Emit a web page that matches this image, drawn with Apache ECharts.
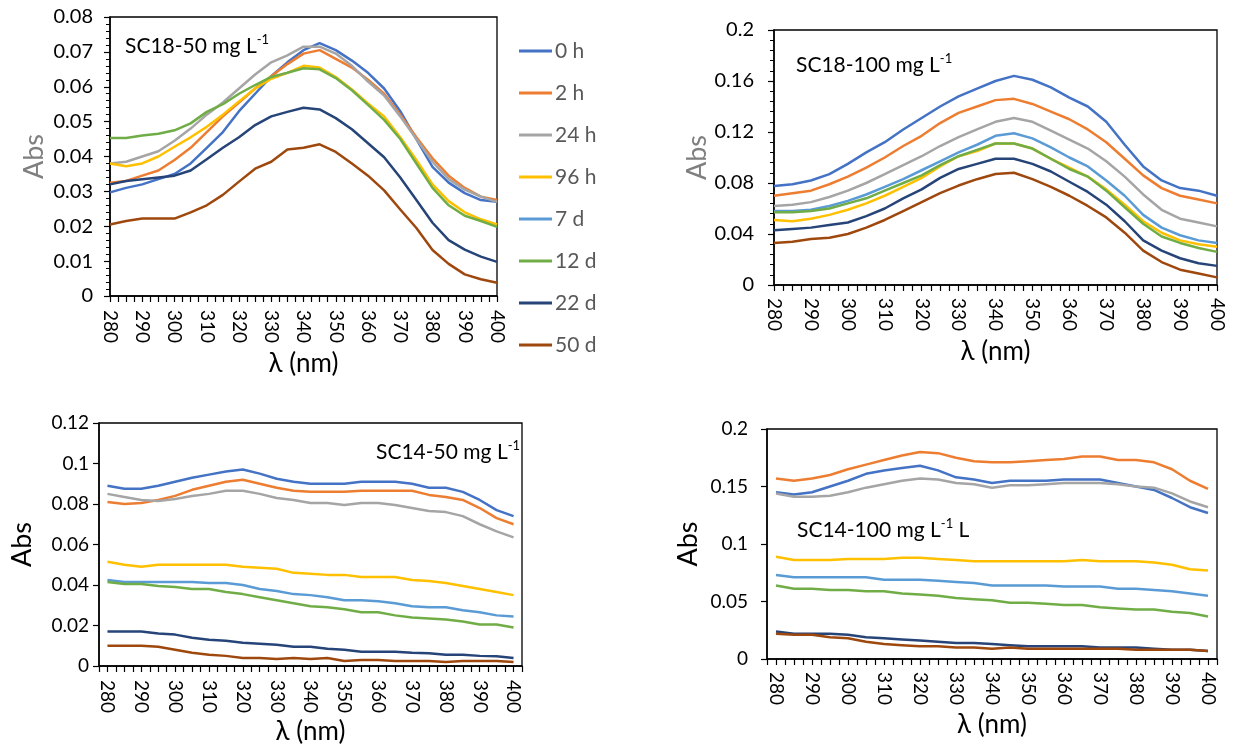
<!DOCTYPE html>
<html><head><meta charset="utf-8">
<script src="https://cdn.jsdelivr.net/npm/echarts@6/dist/echarts.min.js"></script>
<style>html,body{margin:0;padding:0;background:#fff}#c{width:1238px;height:748px}</style>
</head><body><div id="c"></div>
<script>
// ---------- data ----------
const wavelengths = [280,285,290,295,300,305,310,315,320,325,330,335,340,345,350,355,360,365,370,375,380,385,390,395,400];
const seriesNames = ['0 h','2 h','24 h','96 h','7 d','12 d','22 d','50 d'];
const seriesColors = ['#4472C4','#ED7D31','#A5A5A5','#FFC000','#5B9BD5','#70AD47','#264478','#9E480E'];

// Panel SC18-50 mg L-1 (7 d not visible)
const sc18_50_0h  = [0.0297,0.031,0.032,0.0335,0.035,0.038,0.0425,0.047,0.053,0.058,0.063,0.067,0.0705,0.0725,0.0705,0.0675,0.064,0.0595,0.053,0.045,0.037,0.0325,0.0295,0.0275,0.027];
const sc18_50_2h  = [0.0325,0.033,0.0345,0.036,0.039,0.0425,0.047,0.0515,0.0555,0.0595,0.063,0.0665,0.0695,0.0705,0.068,0.0655,0.062,0.058,0.052,0.0455,0.0395,0.0345,0.031,0.0285,0.0275];
const sc18_50_24h = [0.038,0.0385,0.040,0.0415,0.0445,0.048,0.052,0.0555,0.0595,0.0635,0.067,0.069,0.0715,0.0715,0.0695,0.066,0.0615,0.0575,0.0515,0.045,0.0385,0.0335,0.0305,0.0285,0.027];
const sc18_50_96h = [0.038,0.0372,0.038,0.040,0.0428,0.0455,0.0485,0.052,0.0558,0.0595,0.0623,0.064,0.066,0.0655,0.0628,0.0592,0.0552,0.0515,0.0455,0.039,0.032,0.0272,0.024,0.022,0.0205];
const sc18_50_7d  = null;
const sc18_50_12d = [0.0453,0.0453,0.046,0.0465,0.0475,0.0495,0.0528,0.055,0.058,0.0605,0.0628,0.064,0.0653,0.065,0.0625,0.059,0.0548,0.0505,0.045,0.038,0.031,0.026,0.023,0.0215,0.0198];
const sc18_50_22d = [0.032,0.033,0.0335,0.034,0.0345,0.036,0.0392,0.0425,0.0455,0.049,0.0515,0.0528,0.054,0.0535,0.051,0.0478,0.0438,0.0398,0.034,0.0275,0.021,0.016,0.0133,0.0113,0.0098];
const sc18_50_50d = [0.0205,0.0215,0.0222,0.0222,0.0222,0.024,0.026,0.029,0.0328,0.0365,0.0385,0.042,0.0425,0.0435,0.0413,0.038,0.0345,0.0303,0.0248,0.0195,0.0132,0.0092,0.0062,0.0048,0.0038];

// Panel SC18-100 mg L-1
const sc18_100_0h  = [0.0777,0.079,0.082,0.087,0.095,0.104,0.112,0.122,0.131,0.140,0.148,0.154,0.160,0.164,0.161,0.155,0.147,0.140,0.128,0.110,0.093,0.082,0.076,0.074,0.070];
const sc18_100_2h  = [0.070,0.072,0.074,0.079,0.085,0.092,0.100,0.109,0.117,0.127,0.135,0.140,0.145,0.146,0.142,0.136,0.130,0.122,0.112,0.099,0.086,0.076,0.070,0.067,0.064];
const sc18_100_24h = [0.062,0.063,0.065,0.069,0.074,0.080,0.087,0.094,0.101,0.109,0.116,0.122,0.128,0.131,0.128,0.121,0.114,0.107,0.097,0.085,0.071,0.059,0.052,0.049,0.046];
const sc18_100_96h = [0.051,0.050,0.052,0.055,0.059,0.064,0.070,0.077,0.084,0.093,0.101,0.105,0.111,0.111,0.107,0.099,0.092,0.085,0.075,0.063,0.050,0.041,0.035,0.032,0.030];
const sc18_100_7d  = [0.058,0.058,0.059,0.062,0.066,0.071,0.077,0.083,0.090,0.097,0.104,0.110,0.117,0.119,0.115,0.108,0.100,0.093,0.082,0.070,0.055,0.045,0.039,0.035,0.033];
const sc18_100_12d = [0.057,0.057,0.058,0.060,0.064,0.068,0.074,0.080,0.086,0.094,0.101,0.106,0.111,0.111,0.107,0.099,0.091,0.085,0.074,0.061,0.048,0.038,0.033,0.029,0.026];
const sc18_100_22d = [0.043,0.044,0.045,0.047,0.049,0.054,0.060,0.068,0.075,0.084,0.091,0.095,0.099,0.099,0.095,0.089,0.081,0.073,0.063,0.050,0.035,0.027,0.021,0.017,0.015];
const sc18_100_50d = [0.033,0.034,0.036,0.037,0.040,0.045,0.051,0.058,0.065,0.072,0.078,0.083,0.087,0.088,0.083,0.077,0.070,0.062,0.053,0.041,0.027,0.018,0.012,0.009,0.006];

// Panel SC14-50 mg L-1
const sc14_50_0h  = [0.089,0.0875,0.0875,0.089,0.091,0.093,0.0945,0.096,0.097,0.095,0.0925,0.091,0.090,0.090,0.090,0.091,0.091,0.091,0.090,0.088,0.088,0.086,0.082,0.077,0.074];
const sc14_50_2h  = [0.081,0.080,0.0805,0.082,0.084,0.087,0.089,0.091,0.092,0.090,0.088,0.0865,0.086,0.086,0.086,0.0865,0.0865,0.0865,0.0865,0.0845,0.0835,0.082,0.078,0.073,0.070];
const sc14_50_24h = [0.085,0.0835,0.082,0.0815,0.0825,0.084,0.085,0.0865,0.0865,0.085,0.083,0.082,0.0805,0.0805,0.0795,0.0805,0.0805,0.0795,0.078,0.0765,0.076,0.074,0.070,0.0665,0.0635];
const sc14_50_96h = [0.0515,0.050,0.049,0.050,0.050,0.050,0.050,0.050,0.049,0.0485,0.048,0.046,0.0455,0.045,0.045,0.044,0.044,0.044,0.0425,0.042,0.041,0.0395,0.038,0.0365,0.035];
const sc14_50_7d  = [0.0425,0.0415,0.0415,0.0415,0.0415,0.0415,0.041,0.041,0.040,0.038,0.037,0.0355,0.035,0.034,0.0325,0.0325,0.032,0.031,0.0295,0.029,0.029,0.0275,0.0265,0.025,0.0245];
const sc14_50_12d = [0.0415,0.0405,0.0405,0.0395,0.039,0.038,0.038,0.0365,0.0355,0.034,0.0325,0.031,0.0295,0.029,0.028,0.0265,0.0265,0.025,0.024,0.0235,0.023,0.022,0.0205,0.0205,0.019];
const sc14_50_22d = [0.017,0.017,0.017,0.016,0.0155,0.014,0.013,0.0125,0.0115,0.011,0.0105,0.0095,0.0095,0.0085,0.008,0.007,0.007,0.007,0.0065,0.0063,0.0055,0.0055,0.005,0.0048,0.004];
const sc14_50_50d = [0.010,0.010,0.010,0.0095,0.008,0.0065,0.0055,0.005,0.004,0.004,0.0035,0.004,0.0035,0.004,0.0025,0.003,0.003,0.0025,0.0025,0.0025,0.002,0.0025,0.0025,0.0025,0.002];

// Panel SC14-100 mg L-1 L
const sc14_100_0h  = [0.145,0.143,0.145,0.150,0.155,0.161,0.164,0.166,0.168,0.164,0.158,0.156,0.153,0.155,0.155,0.155,0.156,0.156,0.156,0.153,0.150,0.147,0.140,0.132,0.127];
const sc14_100_2h  = [0.157,0.155,0.157,0.160,0.165,0.169,0.173,0.177,0.180,0.179,0.175,0.172,0.171,0.171,0.172,0.173,0.174,0.176,0.176,0.173,0.173,0.171,0.165,0.155,0.148];
const sc14_100_24h = [0.144,0.141,0.141,0.142,0.145,0.149,0.152,0.155,0.157,0.156,0.153,0.152,0.149,0.151,0.151,0.152,0.153,0.153,0.153,0.152,0.150,0.149,0.144,0.137,0.132];
const sc14_100_96h = [0.089,0.086,0.086,0.086,0.087,0.087,0.087,0.088,0.088,0.087,0.086,0.085,0.085,0.085,0.085,0.085,0.085,0.086,0.085,0.085,0.085,0.084,0.082,0.078,0.077];
const sc14_100_7d  = [0.073,0.071,0.071,0.071,0.071,0.071,0.069,0.069,0.069,0.068,0.067,0.066,0.064,0.064,0.064,0.064,0.063,0.063,0.063,0.061,0.061,0.060,0.059,0.057,0.055];
const sc14_100_12d = [0.064,0.061,0.061,0.060,0.060,0.059,0.059,0.057,0.056,0.055,0.053,0.052,0.051,0.049,0.049,0.048,0.047,0.047,0.045,0.044,0.043,0.043,0.041,0.040,0.037];
const sc14_100_22d = [0.024,0.022,0.022,0.022,0.021,0.019,0.018,0.017,0.016,0.015,0.014,0.014,0.013,0.012,0.011,0.011,0.011,0.011,0.010,0.010,0.010,0.009,0.008,0.008,0.007];
const sc14_100_50d = [0.022,0.021,0.021,0.019,0.018,0.015,0.013,0.012,0.011,0.011,0.010,0.010,0.009,0.010,0.009,0.009,0.009,0.009,0.009,0.009,0.008,0.008,0.008,0.008,0.007];

const panelSeries = [
  [sc18_50_0h, sc18_50_2h, sc18_50_24h, sc18_50_96h, sc18_50_7d, sc18_50_12d, sc18_50_22d, sc18_50_50d],
  [sc18_100_0h, sc18_100_2h, sc18_100_24h, sc18_100_96h, sc18_100_7d, sc18_100_12d, sc18_100_22d, sc18_100_50d],
  [sc14_50_0h, sc14_50_2h, sc14_50_24h, sc14_50_96h, sc14_50_7d, sc14_50_12d, sc14_50_22d, sc14_50_50d],
  [sc14_100_0h, sc14_100_2h, sc14_100_24h, sc14_100_96h, sc14_100_7d, sc14_100_12d, sc14_100_22d, sc14_100_50d]
];
const panelTitles = ['SC18-50 mg L', 'SC18-100 mg L', 'SC14-50 mg L', 'SC14-100 mg L'];
const panelTitleTails = ['', '', '', ' L'];
const yRanges = [[0, 0.08, 0.01], [0, 0.2, 0.04], [0, 0.12, 0.02], [0, 0.2, 0.05]];

// ---------- layout / style ----------
const FONT = 'Lato';
const grids = [
  {left: 110, top: 17, width: 387, height: 279},
  {left: 774, top: 30, width: 443, height: 255},
  {left: 99, top: 423, width: 423, height: 243},
  {left: 767, top: 429, width: 450, height: 230}
];
const xPad = [false, false, true, true];
const yMinor = [true, true, false, false];
const absColor = ['#7f7f7f', '#7f7f7f', '#000', '#000'];
const yLabelSize = [20, 20, 19, 19];
const yLabelMargin = [17, 20, 10, 19];
const yNameGap = [62, 63, 63, 65];
const xNameGap = [55, 54, 53, 53];
const xLabelMargin = [14, 13, 14, 13];
const titlePos = [
  {x: 125, y: 46}, {x: 796, y: 65}, {x: 376, y: 452}, {x: 797, y: 530}
];

const option = {
  animation: false,
  backgroundColor: '#fff',
  textStyle: {fontFamily: FONT},
  grid: grids.map(g => Object.assign({show: true, borderColor: '#000', borderWidth: 1.3, backgroundColor: 'transparent'}, g)),
  legend: {
    data: seriesNames,
    orient: 'vertical',
    left: 519, top: 40, padding: 0,
    icon: 'rect', itemWidth: 33, itemHeight: 3, itemGap: 20,
    textStyle: {fontFamily: FONT, fontSize: 21, color: '#595959', lineHeight: 22, padding: [0, 0, 0, -2]}
  },
  xAxis: grids.map((g, i) => ({
    type: 'value', gridIndex: i,
    min: xPad[i] ? 277.5 : 280, max: xPad[i] ? 402.5 : 400, interval: 2.5,
    name: 'λ (nm)', nameLocation: 'middle', nameGap: xNameGap[i],
    nameTextStyle: {fontFamily: FONT, fontSize: 26, color: '#000'},
    axisLine: {show: true, onZero: false, lineStyle: {color: '#000', width: 1.5}},
    axisTick: {show: true, length: 6, lineStyle: {color: '#000', width: 1.2}},
    axisLabel: {rotate: -90, margin: xLabelMargin[i], fontFamily: FONT, fontSize: 19, color: '#000',
      formatter: v => (Math.abs(v % 10) < 1e-9 ? String(v) : '')},
    splitLine: {show: false}
  })),
  yAxis: grids.map((g, i) => ({
    type: 'value', gridIndex: i,
    min: yRanges[i][0], max: yRanges[i][1], interval: yRanges[i][2],
    name: 'Abs', nameLocation: 'middle', nameGap: yNameGap[i],
    nameTextStyle: {fontFamily: FONT, fontSize: 27, color: absColor[i]},
    axisLine: {show: true, onZero: false, lineStyle: {color: '#000', width: 1.5}},
    axisTick: {show: true, length: 6, lineStyle: {color: '#000', width: 1.2}},
    minorTick: {show: yMinor[i], splitNumber: 5, length: 4, lineStyle: {color: '#000', width: 1}},
    axisLabel: {margin: yLabelMargin[i], fontFamily: FONT, fontSize: yLabelSize[i], color: '#000'},
    splitLine: {show: false}
  })),
  series: [],
  graphic: panelTitles.map((t, i) => ({
    type: 'text', left: titlePos[i].x, top: titlePos[i].y - 13, z: 100,
    style: {
      text: '{m|' + t + '}{s|-1}' + (panelTitleTails[i] ? '{m|' + panelTitleTails[i] + '}' : ''),
      fill: '#000', fontFamily: FONT,
      rich: {
        m: {fontFamily: FONT, fontSize: 21, lineHeight: 26, fill: '#000', color: '#000'},
        s: {fontFamily: FONT, fontSize: 13, lineHeight: 15, verticalAlign: 'top', fill: '#000', color: '#000'}
      }
    }
  }))
};

panelSeries.forEach((arrs, p) => {
  arrs.forEach((vals, k) => {
    if (!vals) return;
    option.series.push({
      type: 'line', name: seriesNames[k], xAxisIndex: p, yAxisIndex: p,
      symbol: 'none', smooth: false,
      lineStyle: {width: 2.5, color: seriesColors[k]},
      itemStyle: {color: seriesColors[k]},
      data: wavelengths.map((w, j) => [w, vals[j]])
    });
  });
});

const chart = echarts.init(document.getElementById('c'), null, {renderer: 'canvas'});
chart.setOption(option);
</script>
</body></html>
